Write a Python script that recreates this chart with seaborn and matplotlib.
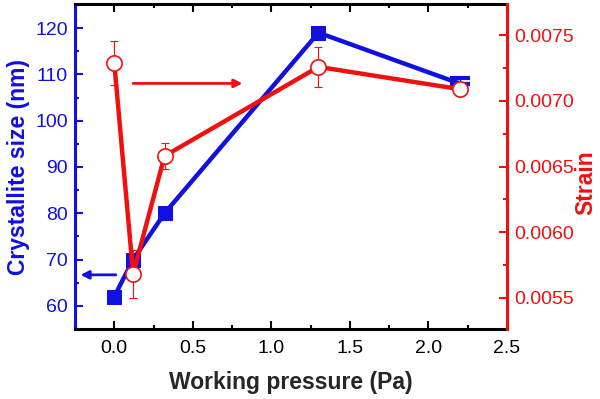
import matplotlib
matplotlib.use("Agg")
import matplotlib.pyplot as plt
import seaborn as sns
import pandas as pd
from matplotlib.ticker import MultipleLocator

pressure = [0.0, 0.12, 0.32, 1.3, 2.2]
size_nm = [62.0, 70.0, 80.0, 119.0, 108.0]
size_err_up = [0.0, 0.0, 0.0, 0.0, 1.2]
strain = [0.00729, 0.00568, 0.00658, 0.00726, 0.00709]
strain_err = [0.00017, 0.00018, 0.00010, 0.00015, 0.0]

sns.set_style("white")
plt.rcParams['font.family'] = ['Liberation Sans', 'DejaVu Sans']

BLUE = "#1010e0"
RED = "#f01010"

df = pd.DataFrame({"p": pressure, "size": size_nm, "strain": strain})

fig = plt.figure(figsize=(6, 3.99), dpi=100)
ax = fig.add_axes([0.125, 0.1754, 0.72, 0.8146])
sns.lineplot(data=df, x="p", y="size", ax=ax, color=BLUE, lw=3.2,
             marker="s", markersize=9.5, markeredgecolor=BLUE, markerfacecolor=BLUE,
             markevery=[0, 1, 2, 3])
ax.errorbar(pressure[4:], size_nm[4:], yerr=[[0.0], size_err_up[4:]], fmt="none",
            ecolor=BLUE, elinewidth=1, capsize=7, capthick=3)
ax.set_xlim(-0.25, 2.5)
ax.set_ylim(55, 125.2)
ax.xaxis.set_major_locator(MultipleLocator(0.5))
ax.xaxis.set_minor_locator(MultipleLocator(0.25))
ax.yaxis.set_major_locator(MultipleLocator(10))
ax.yaxis.set_minor_locator(MultipleLocator(5))
ax.set_xlabel("Working pressure (Pa)", fontsize=16.5, fontweight="bold", labelpad=10)
ax.set_ylabel("Crystallite size (nm)", fontsize=16.5, fontweight="bold", color=BLUE, labelpad=4)
ax.tick_params(axis="x", which="both", direction="in", top=True, bottom=True,
               labelsize=14, colors="black", width=1.5, pad=8)
ax.tick_params(axis="x", which="major", length=6)
ax.tick_params(axis="x", which="minor", length=3)
ax.tick_params(axis="y", which="both", direction="in", left=True, labelsize=14,
               colors=BLUE, width=1.5, pad=5)
ax.tick_params(axis="y", which="major", length=6)
ax.tick_params(axis="y", which="minor", length=3)
for s in ["top", "bottom"]:
    ax.spines[s].set_color("black")
    ax.spines[s].set_linewidth(2.2)
ax.spines["left"].set_color(BLUE)
ax.spines["left"].set_linewidth(2.2)
ax.spines["right"].set_visible(False)
ax.annotate("", xy=(-0.215, 66.7), xytext=(0.01, 66.7),
            arrowprops=dict(arrowstyle="-|>", color=BLUE, lw=2, mutation_scale=12,
                            shrinkA=0, shrinkB=0))

ax2 = ax.twinx()
ax2.errorbar(pressure, strain, yerr=strain_err, fmt="none", ecolor=RED,
             elinewidth=0.8, capsize=3, capthick=0.8, zorder=1)
sns.lineplot(data=df, x="p", y="strain", ax=ax2, color=RED, lw=3.2,
             marker="o", markersize=11, markerfacecolor="white",
             markeredgecolor=RED, markeredgewidth=1.2, zorder=3)
ax2.set_ylim(0.00526, 0.00774)
ax2.yaxis.set_major_locator(MultipleLocator(0.0005))
ax2.yaxis.set_minor_locator(MultipleLocator(0.00025))
ax2.yaxis.set_major_formatter(matplotlib.ticker.FormatStrFormatter("%.4f"))
ax2.set_ylabel("Strain", fontsize=16.5, fontweight="bold", color=RED)
ax2.yaxis.set_label_coords(1.157, 0.45)
ax2.set_xlabel("")
ax2.tick_params(axis="y", which="both", direction="in", right=True, labelsize=14,
                colors=RED, width=1.5, pad=5)
ax2.tick_params(axis="y", which="major", length=6)
ax2.tick_params(axis="y", which="minor", length=3)
ax2.spines["right"].set_color(RED)
ax2.spines["right"].set_linewidth(2.2)
for s in ["left", "top", "bottom"]:
    ax2.spines[s].set_visible(False)
ax2.annotate("", xy=(0.816, 0.007134), xytext=(0.12, 0.007134),
             arrowprops=dict(arrowstyle="-|>", color=RED, lw=2, mutation_scale=12,
                             shrinkA=0, shrinkB=0))

fig.savefig("out.png", dpi=100)
